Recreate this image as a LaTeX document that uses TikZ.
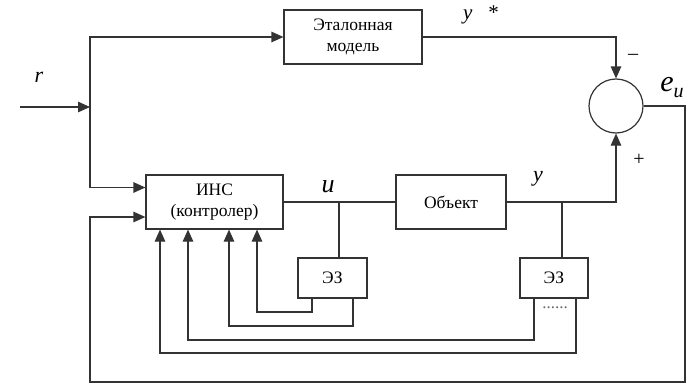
\documentclass[tikz,border=0pt]{standalone}
\usepackage{fontspec}
\setmainfont{Liberation Serif}
\usetikzlibrary{arrows.meta}
\tikzset{
  blockbox/.style={draw, line width=1.2pt, fill=white, font={\fontsize{17.5}{21}\selectfont}, align=center, inner sep=0pt},
  sig/.style={font={\fontsize{22}{22}\selectfont\itshape}},
  arr/.tip={Triangle[length=12pt, width=10.5pt]},
}
\begin{document}
\begin{tikzpicture}[x=1pt, y=-1pt, line width=1.2pt, draw=black!80]
  \useasboundingbox (0,0) rectangle (686,383);
  % blocks
  \node[blockbox, minimum width=138pt, minimum height=54pt] (model) at (353,37) {Эталонная\\модель};
  \node[blockbox, minimum width=137pt, minimum height=54pt] (ins) at (214.5,202) {ИНС\\(контролер)};
  \node[blockbox, minimum width=110pt, minimum height=54pt] (obj) at (451,202) {Объект};
  \node[blockbox, minimum width=69pt, minimum height=40pt] (ezl) at (332.5,278) {ЭЗ};
  \node[blockbox, minimum width=68pt, minimum height=40pt] (ezr) at (554,278) {ЭЗ};
  \node[draw, circle, minimum size=54pt, inner sep=0pt, line width=1.2pt] (sum) at (616,106) {};
  % branch points
  \coordinate (rin) at (20,107);
  \coordinate (split) at (90,107);
  \coordinate (ju) at (339,202);
  \coordinate (jy) at (562,202);
  \coordinate (eout) at (685,106);
  \coordinate (fb) at (90,382);
  % reference input
  \draw[-arr] (rin) -- (split);
  \draw[-arr] (split) |- (model.west);
  \draw[-arr] (split) |- ([yshift=14.5pt]ins.west);
  % main path
  \draw (ins.east) -- (obj.west);
  \draw[-arr] (model.east) -| (sum.north);
  \draw[-arr] (obj.east) -| (sum.south);
  \draw (ju) -- (ju |- ezl.north);
  \draw (jy) -- (jy |- ezr.north);
  % error feedback
  \draw[-arr] (sum.east) -- (eout) |- (fb) |- ([yshift=-15pt]ins.west);
  % delay outputs back to controller
  \foreach \src/\xs/\xd/\lev in {ezl/312/257/312, ezl/353/229/326, ezr/534/188/340, ezr/576/160/353} {
    \draw[-arr] (\src.south -| \xs,0) |- (\xd,\lev) -- (ins.south -| \xd,0);
  }
  \node[text=black!60, font={\fontsize{17}{17}\selectfont}] (dots) at (555,308) {......};
  % labels
  \node[sig] (lr) at (39,77) {r};
  \node[sig, font={\fontsize{21}{21}\selectfont\itshape}] (lys) at (481,15) {y\hspace{0.75em}\upshape *};
  \node[sig, font={\fontsize{26}{26}\selectfont\itshape}] (lu) at (328,187) {u};
  \node[sig] (ly) at (538,179) {y};
  \node[font={\fontsize{20}{20}\selectfont}] (lm) at (633,57) {\textendash};
  \node[font={\fontsize{20}{20}\selectfont}] (lp) at (639,160) {+};
  \node[font={\fontsize{30}{30}\selectfont}, inner sep=0pt] (le) at (672,88) {\textit{e}\raisebox{-6pt}{\fontsize{20}{20}\selectfont\textit{u}}};
\end{tikzpicture}
\end{document}
